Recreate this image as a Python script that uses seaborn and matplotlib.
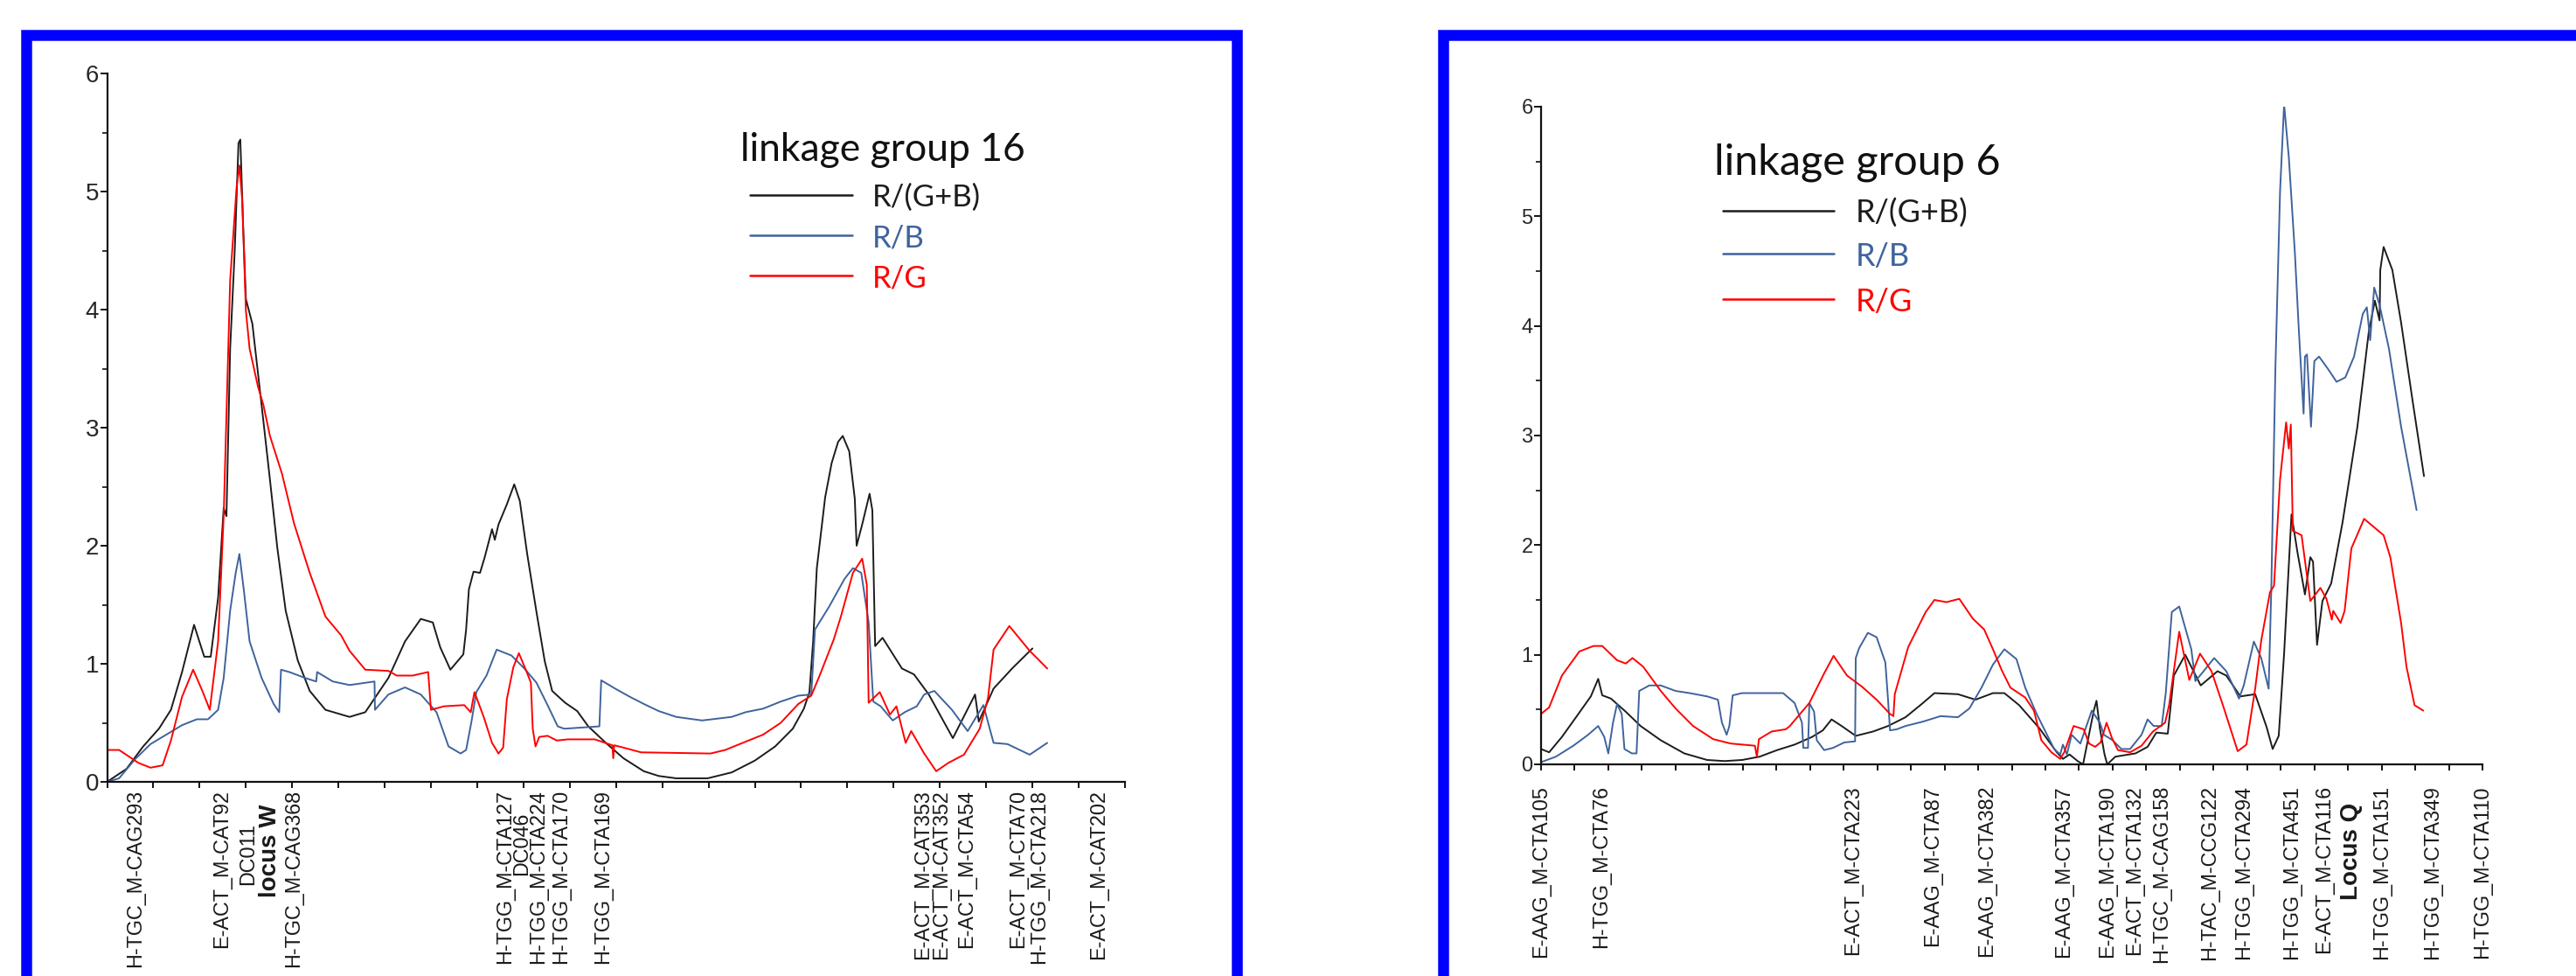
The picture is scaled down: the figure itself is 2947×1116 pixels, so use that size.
import numpy as np
import pandas as pd
import matplotlib
matplotlib.use("Agg")
import matplotlib.pyplot as plt
from matplotlib.patches import Rectangle
from matplotlib.lines import Line2D
from matplotlib.ticker import MultipleLocator
import seaborn as sns

sns.set_style("ticks")
plt.rcParams['font.family'] = ['Liberation Sans', 'DejaVu Sans']

### LOD profiles (position in cM, LOD)

# linkage group 16
lg16_rgb_x = [0, 2.1, 3.9, 5.6, 6.9, 8.1, 9.4, 10.5, 11.2, 12.0, 12.6, 12.9, 13.3, 13.8, 14.2, 14.4, 14.7, 15.0,
              15.7, 16.7, 17.6, 18.4, 19.3, 20.6, 21.9, 23.6, 26.2, 27.9, 30.4, 32.2, 33.9, 35.2, 36.0, 37.1, 38.5,
              38.8, 39.1, 39.6, 40.3, 40.8, 41.6, 41.9, 42.3, 43.2, 44.0, 44.6, 45.4, 46.4, 47.3, 48.1, 49.5, 50.8,
              52.0, 53.9, 55.8, 58.0, 59.6, 61.5, 64.9, 67.5, 70.0, 72.2, 74.1, 75.3, 75.9, 76.3, 76.7, 77.6, 78.3,
              79.0, 79.5, 80.2, 80.8, 81.0, 81.6, 82.4, 82.7, 83.0, 83.8, 85.9, 87.2, 88.8, 91.4, 93.8, 94.2, 95.8,
              97.8, 100.0]
lg16_rgb = [0, 0.11, 0.30, 0.45, 0.61, 0.93, 1.33, 1.06, 1.06, 1.56, 2.32, 2.25, 3.67, 4.51, 5.41, 5.44, 4.72, 4.09,
            3.88, 3.19, 2.56, 1.98, 1.45, 1.03, 0.77, 0.61, 0.55, 0.59, 0.88, 1.19, 1.38, 1.35, 1.14, 0.95, 1.08,
            1.29, 1.63, 1.78, 1.77, 1.90, 2.14, 2.05, 2.18, 2.35, 2.52, 2.38, 1.93, 1.44, 1.02, 0.77, 0.67, 0.60,
            0.47, 0.33, 0.20, 0.09, 0.05, 0.03, 0.03, 0.08, 0.18, 0.30, 0.45, 0.62, 0.76, 1.19, 1.81, 2.41, 2.70,
            2.88, 2.93, 2.80, 2.40, 2.00, 2.18, 2.44, 2.30, 1.15, 1.22, 0.96, 0.91, 0.74, 0.37, 0.74, 0.51, 0.79,
            0.96, 1.13]

lg16_rb_x = [0, 1.3, 3.0, 4.7, 6.4, 8.1, 9.7, 10.9, 12.0, 12.6, 13.3, 13.9, 14.3, 14.8, 15.4, 16.7, 18.0, 18.6,
             18.8, 19.7, 21.4, 22.6, 22.7, 24.4, 26.2, 28.9, 28.95, 30.4, 32.2, 33.9, 35.6, 36.9, 38.2, 38.8, 39.4,
             39.9, 41.0, 42.1, 43.7, 45.1, 46.4, 47.6, 48.7, 49.4, 53.2, 53.4, 54.9, 56.5, 58.0, 59.6, 61.5, 64.3,
             67.5, 69.0, 70.9, 72.8, 74.7, 76.1, 76.5, 78.0, 79.7, 80.6, 81.5, 82.3, 82.8, 83.6, 84.9, 86.2, 87.5,
             88.3, 89.4, 91.3, 93.0, 94.7, 95.8, 97.3, 99.7, 101.6]
lg16_rb = [0, 0.03, 0.19, 0.32, 0.40, 0.48, 0.53, 0.53, 0.61, 0.88, 1.45, 1.77, 1.93, 1.61, 1.19, 0.88, 0.66, 0.59,
           0.95, 0.93, 0.88, 0.85, 0.93, 0.85, 0.82, 0.85, 0.61, 0.74, 0.80, 0.74, 0.59, 0.30, 0.24, 0.27, 0.52,
           0.76, 0.90, 1.12, 1.07, 0.96, 0.84, 0.65, 0.47, 0.45, 0.47, 0.86, 0.79, 0.72, 0.66, 0.60, 0.55, 0.52,
           0.55, 0.59, 0.62, 0.68, 0.73, 0.74, 1.29, 1.48, 1.72, 1.81, 1.77, 1.35, 0.68, 0.64, 0.52, 0.59, 0.64,
           0.74, 0.77, 0.61, 0.43, 0.65, 0.33, 0.32, 0.23, 0.33]

lg16_rg_x = [0, 1.3, 3.4, 4.7, 6.0, 6.9, 8.1, 9.3, 10.3, 11.1, 12.0, 12.6, 13.3, 14.0, 14.3, 14.6, 15.0, 15.4, 16.3,
             16.9, 17.6, 18.9, 20.2, 21.9, 23.6, 25.3, 26.2, 27.9, 30.4, 31.3, 33.0, 34.7, 35.0, 36.4, 38.6, 39.3,
             39.7, 40.7, 41.6, 42.3, 42.8, 43.2, 43.9, 44.5, 45.3, 45.8, 46.0, 46.3, 46.7, 47.6, 48.6, 49.8, 52.7,
             54.6, 54.7, 54.8, 55.8, 57.7, 65.2, 66.8, 69.0, 70.9, 72.8, 74.7, 76.1, 77.0, 78.5, 79.3, 80.6, 81.6,
             82.1, 82.3, 83.5, 84.6, 85.3, 86.3, 86.9, 88.3, 89.6, 90.9, 92.6, 94.3, 95.2, 95.8, 97.5, 99.7, 101.6]
lg16_rg = [0.27, 0.27, 0.16, 0.12, 0.14, 0.35, 0.72, 0.95, 0.77, 0.61, 1.19, 2.25, 4.25, 5.04, 5.22, 4.93, 3.99, 3.67,
           3.35, 3.19, 2.93, 2.61, 2.19, 1.77, 1.40, 1.24, 1.11, 0.95, 0.94, 0.90, 0.90, 0.93, 0.61, 0.64, 0.65,
           0.59, 0.76, 0.55, 0.33, 0.24, 0.29, 0.70, 0.97, 1.09, 0.94, 0.84, 0.45, 0.30, 0.38, 0.39, 0.35, 0.36,
           0.36, 0.31, 0.20, 0.31, 0.29, 0.25, 0.24, 0.27, 0.34, 0.40, 0.50, 0.66, 0.73, 0.90, 1.20, 1.40, 1.77,
           1.89, 1.67, 0.67, 0.76, 0.57, 0.64, 0.33, 0.43, 0.24, 0.09, 0.16, 0.23, 0.45, 0.71, 1.12, 1.32, 1.11,
           0.96]

lg16_markers = ['H-TGC_M-CAG293', 'E-ACT_M-CAT92', 'DC011', 'locus W', 'H-TGC_M-CAG368', 'H-TGG_M-CTA127',
                'DC046', 'H-TGG_M-CTA224', 'H-TGG_M-CTA170', 'H-TGG_M-CTA169', 'E-ACT_M-CAT353',
                'E-ACT_M-CAT352', 'E-ACT_M-CTA54', 'E-ACT_M-CTA70', 'H-TGG_M-CTA218', 'E-ACT_M-CAT202']
lg16_marker_pos = [3.0, 12.4, 15.2, 17.6, 20.1, 43.0, 44.8, 46.6, 49.0, 53.6, 88.1, 90.1, 92.9, 98.4, 100.7, 107.1]

# linkage group 6
lg6_rgb_x = [0, 1.2, 3.1, 5.2, 7.4, 8.5, 9.1, 10.4, 12.6, 14.8, 17.8, 21.3, 24.7, 27.3, 29.9, 32.5, 35.1, 37.7,
             40.3, 41.9, 43.2, 44.7, 46.8, 49.4, 51.6, 54.2, 56.6, 58.5, 62.0, 64.6, 67.2, 68.9, 71.1, 74.1, 76.7,
             77.6, 78.6, 79.8, 80.6, 82.2, 82.6, 83.1, 83.8, 84.2, 85.4, 88.4, 90.2, 91.5, 93.2, 94.1, 95.8, 98.1,
             100.6, 101.9, 104.0, 106.2, 107.9, 108.8, 109.7, 110.5, 111.6, 112.5, 113.6, 114.4, 114.8, 115.4,
             116.2, 117.5, 119.2, 121.4, 123.1, 124.0, 124.7, 124.8, 125.3, 126.6, 127.9, 129.6, 131.3]
lg6_rgb = [0.14, 0.11, 0.25, 0.43, 0.62, 0.78, 0.63, 0.60, 0.48, 0.35, 0.22, 0.10, 0.04, 0.03, 0.04, 0.07, 0.13, 0.18,
           0.25, 0.31, 0.41, 0.35, 0.26, 0.30, 0.35, 0.43, 0.55, 0.65, 0.64, 0.59, 0.65, 0.65, 0.54, 0.33, 0.11,
           0.05, 0.09, 0.03, 0.0, 0.49, 0.58, 0.33, 0.09, 0.0, 0.07, 0.10, 0.16, 0.29, 0.28, 0.81, 1.00, 0.72,
           0.85, 0.81, 0.62, 0.64, 0.34, 0.14, 0.26, 1.01, 2.28, 1.93, 1.55, 1.89, 1.85, 1.09,
           1.49, 1.65, 2.21, 3.08, 3.95, 4.23, 4.05, 4.51, 4.72, 4.51, 4.03, 3.32, 2.63]

lg6_rb_x = [0, 2.2, 4.8, 7.0, 8.5, 9.4, 10.0, 10.7, 11.3, 12.0, 12.4, 13.5, 14.2, 14.6, 16.1, 17.8, 20.0, 22.1, 24.7,
            26.3, 26.9, 27.6, 28.0, 28.5, 29.9, 32.5, 36.0, 37.7, 38.8, 39.0, 39.7, 39.9, 40.6, 41.0, 42.1, 43.4,
            45.1, 46.7, 46.8, 47.3, 48.6, 49.9, 51.2, 51.6, 51.9, 52.9, 54.2, 56.8, 59.4, 62.0, 63.7, 65.5, 67.2,
            68.9, 70.7, 72.0, 73.7, 75.0, 76.3, 77.2, 77.6, 78.2, 78.9, 80.2, 81.9, 83.1, 83.7, 85.0, 86.3, 87.6,
            89.3, 90.2, 91.1, 92.3, 92.9, 93.8, 94.9, 96.7, 97.3, 98.4, 100.1, 101.9, 103.8, 104.5, 106.0, 107.1,
            108.2, 108.6, 109.2, 109.9, 110.5, 111.2, 112.1, 112.7, 113.4, 113.6, 113.9, 114.5, 115.0, 115.7,
            117.0, 118.3, 119.6, 120.9, 122.2, 122.8, 123.3, 123.9, 124.7, 126.1, 127.9, 130.2]
lg6_rb = [0.02, 0.07, 0.17, 0.27, 0.35, 0.25, 0.10, 0.38, 0.55, 0.46, 0.14, 0.10, 0.10, 0.67, 0.72, 0.72, 0.67, 0.65,
          0.62, 0.59, 0.38, 0.27, 0.35, 0.63, 0.65, 0.65, 0.65, 0.56, 0.38, 0.15, 0.15, 0.56, 0.48, 0.22, 0.13,
          0.15, 0.20, 0.21, 0.97, 1.06, 1.20, 1.16, 0.93, 0.59, 0.31, 0.32, 0.35, 0.39, 0.44, 0.43, 0.51, 0.70,
          0.91, 1.05, 0.96, 0.70, 0.46, 0.30, 0.14, 0.09, 0.18, 0.09, 0.27, 0.19, 0.49, 0.38, 0.27, 0.22, 0.14,
          0.14, 0.27, 0.41, 0.35, 0.35, 0.65, 1.39, 1.44, 1.05, 0.76, 0.84, 0.97, 0.85, 0.60, 0.72, 1.12, 0.97,
          0.69, 1.61, 3.60, 5.23, 6.02, 5.54, 4.67, 3.95, 3.20, 3.72, 3.74, 3.08, 3.68, 3.72, 3.61, 3.49, 3.53,
          3.72, 4.11, 4.17, 3.87, 4.35, 4.19, 3.79, 3.08, 2.32]

lg6_rg_x = [0, 1.2, 3.1, 5.7, 7.8, 9.1, 11.3, 12.6, 13.6, 15.2, 17.8, 20.0, 22.6, 25.6, 28.2, 31.8, 32.1, 32.4, 34.3,
            36.4, 37.0, 39.9, 42.1, 43.5, 45.5, 47.7, 49.9, 51.9, 52.4, 52.6, 54.6, 57.2, 58.5, 60.3, 62.2, 64.2,
            65.9, 67.2, 68.5, 69.8, 72.0, 73.3, 74.4, 75.9, 77.2, 77.8, 79.2, 80.7, 81.5, 82.4, 83.2, 84.1, 84.9,
            85.8, 87.6, 89.3, 91.0, 92.8, 93.4, 94.9, 96.4, 98.0, 99.7, 101.4, 103.6, 104.9, 106.2, 107.1, 108.4,
            109.0, 109.9, 110.8, 111.2, 111.5, 111.8, 113.1, 114.4, 115.9, 116.8, 117.6, 117.8, 118.9, 119.5,
            120.5, 122.4, 125.3, 126.3, 127.9, 128.7, 129.9, 131.2]
lg6_rg = [0.46, 0.52, 0.81, 1.03, 1.08, 1.08, 0.95, 0.92, 0.97, 0.89, 0.67, 0.51, 0.35, 0.23, 0.19, 0.17, 0.07, 0.23,
          0.30, 0.32, 0.35, 0.56, 0.83, 0.99, 0.81, 0.71, 0.59, 0.46, 0.44, 0.64, 1.07, 1.39, 1.50, 1.48, 1.51,
          1.33, 1.23, 1.05, 0.86, 0.70, 0.61, 0.49, 0.22, 0.11, 0.05, 0.11, 0.35, 0.32, 0.19, 0.16, 0.20, 0.38,
          0.24, 0.13, 0.11, 0.17, 0.30, 0.38, 0.54, 1.21, 0.77, 1.01, 0.85, 0.54, 0.12, 0.18, 0.69, 1.13, 1.57,
          1.63, 2.60, 3.12, 2.88, 3.10, 2.13, 2.09, 1.49, 1.61, 1.51, 1.32, 1.40, 1.29, 1.40, 1.97, 2.24, 2.09,
          1.89, 1.29, 0.89, 0.54, 0.49]

lg6_markers = ['E-AAG_M-CTA105', 'H-TGG_M-CTA76', 'E-ACT_M-CTA223', 'E-AAG_M-CTA87', 'E-AAG_M-CTA382',
               'E-AAG_M-CTA357', 'E-AAG_M-CTA190', 'E-ACT_M-CTA132', 'H-TGC_M-CAG158', 'H-TAC_M-CCG122',
               'H-TGG_M-CTA294', 'H-TGG_M-CTA451', 'E-ACT_M-CTA116', 'Locus Q', 'H-TGG_M-CTA151',
               'H-TGG_M-CTA349', 'H-TGG_M-CTA110']
lg6_marker_pos = [0.0, 8.9, 46.3, 58.2, 66.3, 77.7, 84.2, 88.2, 92.3, 99.4, 104.5, 111.6, 116.4, 120.5, 125.0,
                  132.6, 140.0]

traits = ['R/(G+B)', 'R/B', 'R/G']
colors = {'R/(G+B)': '#1c1c1c', 'R/B': '#3f639c', 'R/G': '#ff0000'}


def make_frame(xs, ys):
    parts = []
    for t, x, y in zip(traits, xs, ys):
        parts.append(pd.DataFrame({'cM': x, 'LOD': y, 'trait': t}))
    return pd.concat(parts, ignore_index=True)


lg16 = make_frame([lg16_rgb_x, lg16_rb_x, lg16_rg_x], [lg16_rgb, lg16_rb, lg16_rg])
lg6 = make_frame([lg6_rgb_x, lg6_rb_x, lg6_rg_x], [lg6_rgb, lg6_rb, lg6_rg])

W, H = 2947, 1116
fig = plt.figure(figsize=(W / 100, H / 100), dpi=100)

## the two blue frames
for x0, x1 in [(30, 1415), (1651, 3200)]:
    fig.add_artist(Rectangle((x0 / W, -0.2), (x1 - x0) / W, 1.2 - 40 / H, transform=fig.transFigure,
                             fill=False, edgecolor='#0000ff', linewidth=9, clip_on=False))

px = 0.72  # pixels -> points at 100 dpi


def fx(x):
    return x / W


def fy(y):
    return 1 - y / H


def key(title, title_xy, title_size, line_x, rows_y, text_x, size):
    # hand-placed key, like the one in the picture
    fig.text(fx(title_xy[0]), fy(title_xy[1]), title, family='Lato', fontsize=title_size,
             ha='left', va='baseline', color='#111111')
    for t, y in zip(traits, rows_y):
        fig.add_artist(Line2D([fx(line_x[0]), fx(line_x[1])], [fy(y), fy(y)], transform=fig.transFigure,
                              color=colors[t], linewidth=1.8))
        fig.text(fx(text_x), fy(y), t, family='Lato', fontsize=size, ha='left', va='center_baseline',
                 color=colors[t])


def draw_panel(rect, data, xmax, markers, marker_pos, ytick_size, label_drop, special_drop):
    ax = fig.add_axes(rect)
    sns.lineplot(data=data, x='cM', y='LOD', hue='trait', palette=colors, estimator=None, sort=False,
                 linewidth=1.4, legend=False, ax=ax)
    ax.set_xlim(0, xmax)
    ax.set_ylim(0, 6)
    for s in ['top', 'right']:
        ax.spines[s].set_visible(False)
    for s in ['left', 'bottom']:
        ax.spines[s].set_linewidth(1.6)
        ax.spines[s].set_color('#111111')
    ax.xaxis.set_major_locator(MultipleLocator(5))
    ax.set_xticklabels([])
    ax.yaxis.set_major_locator(MultipleLocator(1))
    ax.yaxis.set_minor_locator(MultipleLocator(0.5))
    ax.tick_params(axis='x', direction='out', length=7 * px, width=1.4, color='#111111')
    ax.tick_params(axis='y', which='major', direction='out', length=8 * px, width=1.4, pad=1,
                   labelsize=ytick_size, color='#111111')
    ax.tick_params(axis='y', which='minor', direction='out', length=6 * px, width=1.2, color='#111111')
    ax.set_xlabel('')
    ax.set_ylabel('')

    for name, pos in zip(markers, marker_pos):
        bold = name.lower().startswith('locus')
        drop = special_drop.get(name, label_drop)
        ax.annotate(name, xy=(pos, 0), xycoords=('data', 'axes fraction'), xytext=(0, -drop * px),
                    textcoords='offset points', rotation=90, ha='center', va='top',
                    fontsize=20 if bold else 16.8, fontweight='bold' if bold else 'normal',
                    color='#1a1a1a', annotation_clip=False)
    return ax


draw_panel([122.5 / W, 1 - 894 / H, 1164.5 / W, 810 / H], lg16, 110, lg16_markers, lg16_marker_pos,
           20, 9, {'DC011': 47, 'locus W': 26, 'DC046': 35})
key('linkage group 16', (847, 184), 32, (858, 975), [223, 269, 315], 998, 25)

draw_panel([1763 / W, 1 - 874 / H, 1077 / W, 752 / H], lg6, 140, lg6_markers, lg6_marker_pos,
           17, 24, {'Locus Q': 44})
key('linkage group 6', (1961, 200), 35, (1971, 2098), [241, 290, 342], 2123, 26)

fig.savefig('out.png', dpi=100)
